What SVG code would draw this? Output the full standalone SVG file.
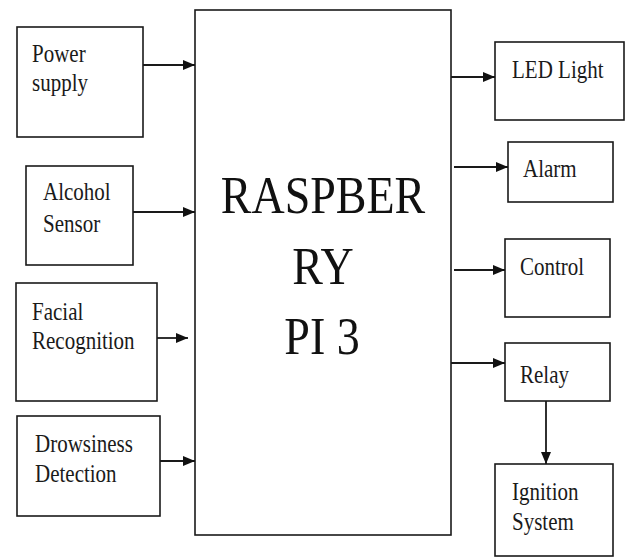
<svg xmlns="http://www.w3.org/2000/svg" width="627" height="557" viewBox="0 0 627 557">
<style>
.box{fill:#fff;stroke:#1a1a1a;stroke-width:1.6}
.t{font-family:'Liberation Serif','Times New Roman',serif;font-size:21px;fill:#1a1a1a}
.big{font-family:'Liberation Serif','Times New Roman',serif;font-size:46px;fill:#111;text-anchor:middle}
.c{stroke:#1a1a1a;stroke-width:1.8;fill:none;marker-end:url(#ah)}
</style>
<defs>
<marker id="ah" markerWidth="12" markerHeight="10" refX="12" refY="5" orient="auto" markerUnits="userSpaceOnUse">
<path d="M0,0 L12,5 L0,10 z" fill="#111"/>
</marker>
</defs>
<rect width="627" height="557" fill="#fff"/>

<g id="main">
<rect class="box" x="195" y="10" width="256" height="525"/>
<text class="big" transform="translate(323,213) scale(1,1.15)">RASPBER</text>
<text class="big" transform="translate(323,284) scale(1,1.15)">RY</text>
<text class="big" transform="translate(322,354) scale(1,1.15)">PI 3</text>
</g>

<g id="power">
<rect class="box" x="17" y="27" width="126" height="110"/>
<text class="t" transform="translate(32,62) scale(1,1.2)">Power</text>
<text class="t" transform="translate(32,91) scale(1,1.2)">supply</text>
</g>

<g id="alcohol">
<rect class="box" x="26" y="166" width="107" height="99"/>
<text class="t" transform="translate(43,200) scale(1,1.2)">Alcohol</text>
<text class="t" transform="translate(43,232) scale(1,1.2)">Sensor</text>
</g>

<g id="facial">
<rect class="box" x="16" y="283" width="141" height="118"/>
<text class="t" transform="translate(32,320) scale(1,1.2)">Facial</text>
<text class="t" transform="translate(32,349) scale(1,1.2)">Recognition</text>
</g>

<g id="drowsiness">
<rect class="box" x="17" y="416" width="143" height="100"/>
<text class="t" transform="translate(35,452) scale(1,1.2)">Drowsiness</text>
<text class="t" transform="translate(35,482) scale(1,1.2)">Detection</text>
</g>

<g id="led">
<rect class="box" x="495" y="42" width="129" height="78"/>
<text class="t" transform="translate(512,78) scale(1,1.2)">LED Light</text>
</g>

<g id="alarm">
<rect class="box" x="508" y="142" width="105" height="60"/>
<text class="t" transform="translate(523,177) scale(1,1.2)">Alarm</text>
</g>

<g id="control">
<rect class="box" x="505" y="239" width="105" height="78"/>
<text class="t" transform="translate(520,275) scale(1,1.2)">Control</text>
</g>

<g id="relay">
<rect class="box" x="505" y="343" width="105" height="58"/>
<text class="t" transform="translate(520,383) scale(1,1.2)">Relay</text>
</g>

<g id="ignition">
<rect class="box" x="495" y="464" width="118" height="92"/>
<text class="t" transform="translate(512,500) scale(1,1.2)">Ignition</text>
<text class="t" transform="translate(512,530) scale(1,1.2)">System</text>
</g>

<g id="connectors">
<line class="c" x1="143" y1="65" x2="195" y2="65"/>
<line class="c" x1="133" y1="212" x2="195" y2="212"/>
<line class="c" x1="157" y1="338" x2="188" y2="338"/>
<line class="c" x1="160" y1="461" x2="195" y2="461"/>
<line class="c" x1="451" y1="77" x2="495" y2="77"/>
<line class="c" x1="454" y1="167" x2="508" y2="167"/>
<line class="c" x1="454" y1="270" x2="505" y2="270"/>
<line class="c" x1="451" y1="363" x2="505" y2="363"/>
<line class="c" x1="546" y1="401" x2="546" y2="464"/>
</g>
</svg>
